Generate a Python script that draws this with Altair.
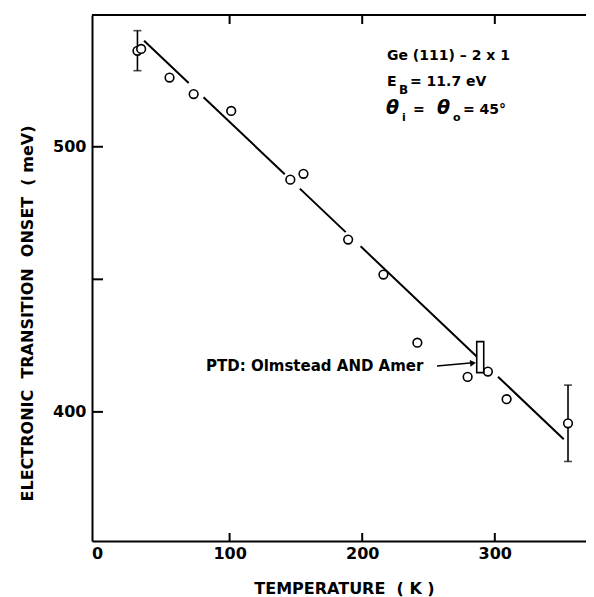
import altair as alt
import pandas as pd

# ---- data ----
temps = [30.5, 33.3, 54.7, 72.9, 101.2, 145.8, 155.7, 189.4, 216.0, 241.6, 279.5, 294.8, 308.9, 355.2]
onsets = [536.2, 536.9, 526.1, 519.9, 513.5, 487.6, 489.8, 465.0, 451.8, 426.1, 413.2, 415.2, 404.8, 395.7]

err_T = [30.5, 355.2]
err_lo = [528.7, 381.3]
err_hi = [543.8, 410.1]

fit_T = [35.5, 352.0]
fit_E = [540.0, 389.7]

ptd_T = [289.0]
ptd_lo = [414.8]
ptd_hi = [426.5]

x_tick_vals = [100, 200, 300]
x_label_vals = [0, 100, 200, 300]
y_tick_vals = [400, 450, 500]
y_label_vals = [400, 500]

W, H = 494, 526
FONT = "DejaVu Sans"
NB = "\u00a0"

xs = alt.Scale(domain=[0, 365.0], nice=False, zero=False)
ys = alt.Scale(domain=[351.3, 549.7], nice=False, zero=False)

xaxis = alt.Axis(values=x_label_vals, ticks=False, tickSize=0, grid=False,
                 domainWidth=2, domainColor="black", labelColor="black",
                 labelFont=FONT, labelFontSize=16, labelFontWeight="bold",
                 labelPadding=4, labelFlush=False,
                 title="TEMPERATURE" + NB + NB + "(" + NB + "K" + NB + ")",
                 titleFont=FONT, titleFontSize=16,
                 titleFontWeight="bold", titleColor="black", titleY=47, titleX=252,
                 titleBaseline="middle", titleAlign="center")
yaxis = alt.Axis(values=y_label_vals, ticks=False, tickSize=0, grid=False,
                 domainWidth=2, domainColor="black", labelColor="black",
                 labelFont=FONT, labelFontSize=16, labelFontWeight="bold", labelPadding=6,
                 title="ELECTRONIC" + NB + NB + "TRANSITION" + NB + NB + "ONSET" + NB + NB + "(" + NB + "meV)",
                 titleFont=FONT,
                 titleFontSize=16, titleFontWeight="bold", titleColor="black",
                 titleAngle=270, titleX=-65, titleY=298, titleAlign="center",
                 titleBaseline="middle")


def X(f):
    return alt.X(f, type="quantitative", scale=xs, axis=xaxis)


def Y(f):
    return alt.Y(f, type="quantitative", scale=ys, axis=yaxis)


pts = pd.DataFrame({"T": temps, "E": onsets})
errs = pd.DataFrame({"T": err_T, "lo": err_lo, "hi": err_hi})
fit = pd.DataFrame({"T": fit_T, "E": fit_E})
ptd = pd.DataFrame({"T": ptd_T, "lo": ptd_lo, "hi": ptd_hi})
one = pd.DataFrame({"a": [0]})

fit_line = alt.Chart(fit).mark_line(color="black", strokeWidth=2,
                                     strokeDash=[61.5, 20.5, 112, 20.8, 63.2, 20.6, 160.4, 29, 300]).encode(
    x=X("T"), y=Y("E"))

err_rule = alt.Chart(errs).mark_rule(color="black", strokeWidth=1.6).encode(
    x=X("T"), y=Y("lo"), y2="hi")
cap_lo = alt.Chart(errs).mark_tick(color="black", orient="horizontal", size=8, thickness=1.6).encode(
    x=X("T"), y=Y("lo"))
cap_hi = alt.Chart(errs).mark_tick(color="black", orient="horizontal", size=8, thickness=1.6).encode(
    x=X("T"), y=Y("hi"))

points = alt.Chart(pts).mark_point(shape="circle", size=75, filled=False, fill="white",
                                   fillOpacity=1, stroke="black", strokeWidth=1.6, opacity=1).encode(
    x=X("T"), y=Y("E"))

ptd_bar = alt.Chart(ptd).mark_bar(size=7, fill="white", stroke="black", strokeWidth=1.6).encode(
    x=X("T"), y=Y("lo"), y2="hi")

# frame pieces and inward ticks
xt = pd.DataFrame({"v": x_tick_vals})
yt = pd.DataFrame({"v": y_tick_vals})
top_border = alt.Chart(one).mark_rule(color="black", strokeWidth=2).encode(
    x=alt.value(0), x2=alt.value(W), y=alt.value(0))
bottom_ticks = alt.Chart(xt).mark_rule(color="black", strokeWidth=2).encode(
    x=X("v"), y=alt.value(H), y2=alt.value(H - 8))
top_ticks = alt.Chart(xt).mark_rule(color="black", strokeWidth=2).encode(
    x=X("v"), y=alt.value(0), y2=alt.value(9))
left_ticks = alt.Chart(yt).mark_rule(color="black", strokeWidth=2).encode(
    y=Y("v"), x=alt.value(0), x2=alt.value(11))

OX, OY = 92, 15


def txt(s, px, py, size=14, style="normal", weight="bold"):
    return alt.Chart(one).mark_text(text=s, align="left", baseline="middle", font=FONT,
                                    fontSize=size, fontStyle=style, fontWeight=weight,
                                    color="black").encode(
        x=alt.value(px - OX), y=alt.value(py - OY))


texts = [
    txt("Ge (111) \u2013 2 x 1", 387, 56),
    txt("E", 387, 82),
    txt("B", 399, 90, size=12),
    txt("= 11.7 eV", 410, 82),
    txt("\u03b8", 386, 108, size=19, style="italic"),
    txt("i", 402, 118, size=11),
    txt("=", 413, 110),
    txt("\u03b8", 437, 108, size=19, style="italic"),
    txt("o", 453, 118, size=11),
    txt("= 45\u00b0", 463, 110),
    txt("PTD: Olmstead AND Amer", 206, 366, size=15),
]

arrow_line = alt.Chart(one).mark_rule(color="black", strokeWidth=1.5).encode(
    x=alt.value(437 - OX), y=alt.value(366 - OY), x2=alt.value(470 - OX), y2=alt.value(363 - OY))
arrow_head = alt.Chart(one).mark_point(shape="triangle-right", filled=True, color="black",
                                       size=45, angle=354, opacity=1).encode(
    x=alt.value(473 - OX), y=alt.value(363 - OY))

chart = alt.layer(
    fit_line, err_rule, cap_lo, cap_hi, points, ptd_bar,
    top_border, bottom_ticks, top_ticks, left_ticks,
    arrow_line, arrow_head, *texts
).properties(
    width=W, height=H,
    autosize=alt.AutoSizeParams(type="none"),
    padding={"left": 84, "top": 7, "right": 0, "bottom": 56},
    background="white",
).configure_view(stroke=None)

chart.save("out.html", embed_options={"renderer": "svg", "actions": False})
